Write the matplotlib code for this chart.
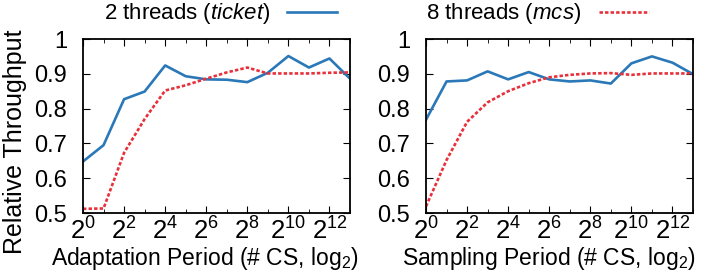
import matplotlib
matplotlib.use("Agg")
import matplotlib.pyplot as plt
from matplotlib.ticker import FixedLocator, NullFormatter

plt.rcParams['font.family'] = ['Liberation Sans', 'DejaVu Sans']
plt.rcParams['mathtext.fontset'] = 'custom'
plt.rcParams['mathtext.rm'] = 'Liberation Sans'
plt.rcParams['mathtext.it'] = 'Liberation Sans:italic'

exponents = list(range(0, 14))
xtick_exps = [0, 2, 4, 6, 8, 10, 12]
yticks = [0.5, 0.6, 0.7, 0.8, 0.9, 1.0]

adapt_ticket = [0.648, 0.695, 0.827, 0.849, 0.924, 0.893, 0.884, 0.883, 0.876, 0.903, 0.951, 0.918, 0.944, 0.886]
adapt_mcs = [0.512, 0.513, 0.673, 0.770, 0.852, 0.867, 0.886, 0.904, 0.918, 0.901, 0.901, 0.901, 0.903, 0.904]
sample_ticket = [0.768, 0.878, 0.881, 0.907, 0.884, 0.905, 0.884, 0.878, 0.881, 0.872, 0.930, 0.950, 0.932, 0.899]
sample_mcs = [0.519, 0.652, 0.762, 0.818, 0.850, 0.873, 0.890, 0.897, 0.901, 0.902, 0.897, 0.901, 0.901, 0.901]

label_ticket = '2 threads ($\\it{ticket}$)'
label_mcs = '8 threads ($\\it{mcs}$)'
xlabels = ['Adaptation Period (# CS, log$_2$)', 'Sampling Period (# CS, log$_2$)']
ylabel = 'Relative Throughput'

blue = '#2a78b8'
red = '#e8303a'

fig = plt.figure(figsize=(7.02, 2.73), dpi=100)
ax1 = fig.add_axes([83/702, 1-213/273, 267/702, 174/273])
ax2 = fig.add_axes([426/702, 1-213/273, 267/702, 174/273])

xs = [2**e for e in exponents]

for ax, t, m, xl in [(ax1, adapt_ticket, adapt_mcs, xlabels[0]), (ax2, sample_ticket, sample_mcs, xlabels[1])]:
    lt, = ax.plot(xs, t, color=blue, lw=1.9, label=label_ticket)
    lm, = ax.plot(xs, m, color=red, lw=1.9, linestyle=(0, (1.3, 0.8)), label=label_mcs)
    ax.set_xscale('log', base=2)
    ax.set_xlim(1, 2**13)
    ax.set_ylim(0.5, 1.0)
    ax.xaxis.set_major_locator(FixedLocator([2**e for e in xtick_exps]))
    ax.set_xticklabels(['$2^{%d}$' % e for e in xtick_exps])
    ax.xaxis.set_minor_locator(FixedLocator([2**e for e in exponents if e % 2 == 1]))
    ax.xaxis.set_minor_formatter(NullFormatter())
    ax.set_yticks(yticks)
    ax.set_yticklabels(['1' if v == 1.0 else '%.1f' % v for v in yticks])
    ax.tick_params(which='both', direction='in', top=True, right=True)
    ax.tick_params(axis='y', labelsize=17, pad=11.5)
    ax.tick_params(axis='x', labelsize=18.5, pad=3)
    ax.tick_params(which='major', length=5)
    ax.tick_params(which='minor', length=3)
    for s in ax.spines.values():
        s.set_linewidth(1.3)
    ax.set_xlabel(xl, fontsize=16.5)

ax1.xaxis.set_label_coords(0.458, -0.186)
ax2.xaxis.set_label_coords(0.462, -0.186)

ax1.legend(handles=[ax1.lines[0]], loc='center', bbox_to_anchor=(0.515, 1.144), frameon=False,
           markerfirst=False, fontsize=16, handlelength=2.25, handletextpad=0.72,
           borderpad=0, borderaxespad=0)
ax2.legend(handles=[ax2.lines[1]], loc='center', bbox_to_anchor=(0.418, 1.144), frameon=False,
           markerfirst=False, fontsize=16, handlelength=2.25, handletextpad=0.8,
           borderpad=0, borderaxespad=0)

ax1.set_ylabel(ylabel, fontsize=18)
ax1.yaxis.set_label_coords(-0.21, 0.41)

fig.savefig('out.png', dpi=100)
